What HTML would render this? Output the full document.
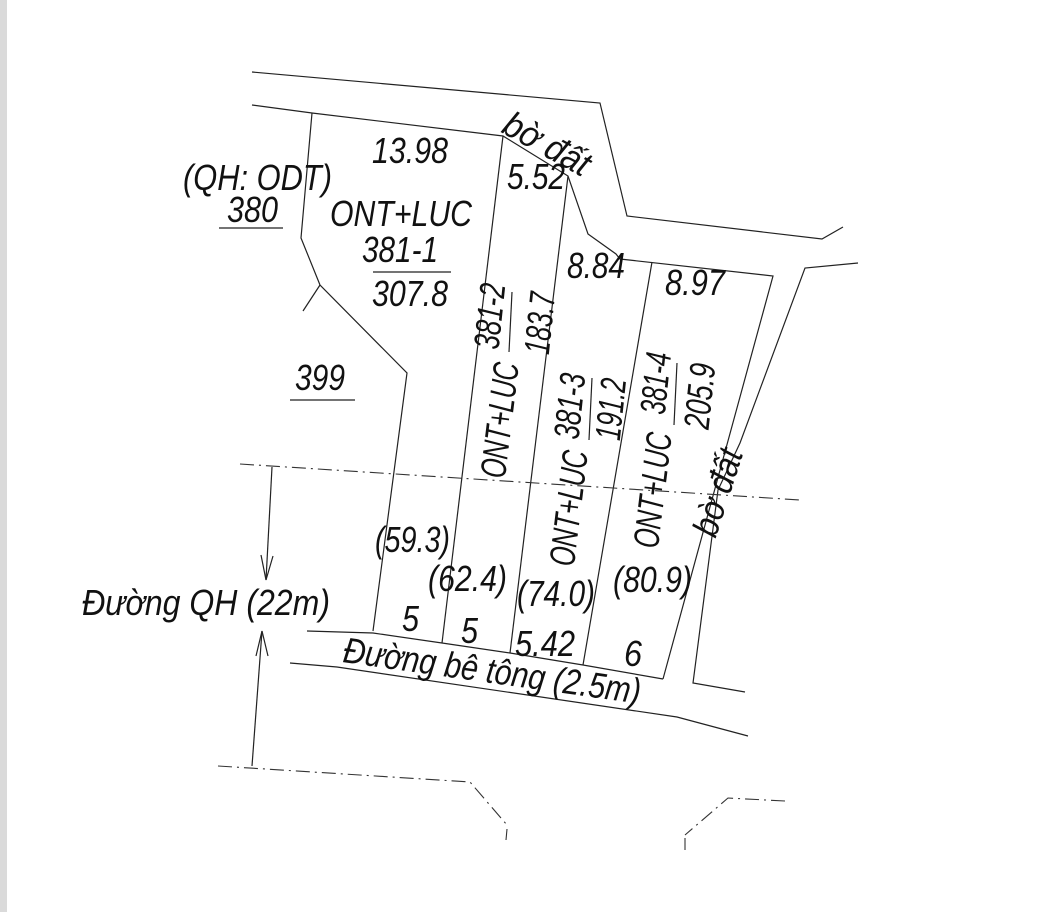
<!DOCTYPE html>
<html><head><meta charset="utf-8"><style>
html,body{margin:0;padding:0;background:#fff;}
svg{display:block;}
text{font-family:"Liberation Sans",sans-serif;font-style:italic;font-size:36px;fill:#111;}
</style></head><body>
<svg width="1051" height="912" viewBox="0 0 1051 912" xmlns="http://www.w3.org/2000/svg">
<rect x="0" y="0" width="1051" height="912" fill="#fff"/>
<rect x="0" y="0" width="7" height="912" fill="#dadada"/>
<g fill="none" stroke="#222" stroke-width="1.2">
<polyline points="252,72 600,103 627,216 822,239 843,227"/>
<polyline points="252,105 312,113 503,136 568,176 588,234 616,254 620,259 773,276 663,679"/>
<polyline points="858,263 805,268 740,443 718,490 693,683 745,692"/>
<polyline points="312,113 301,238 320,285 407,373 373,631"/>
<polyline points="320,285 303,311"/>
<line x1="503" y1="136" x2="442" y2="643"/>
<line x1="568" y1="176" x2="510" y2="653"/>
<line x1="652" y1="262" x2="583" y2="665"/>
<polyline points="307,631 373,633 442,643 510,653 583,665 663,679"/>
<polyline points="290,663 337,667 677,717 748,736"/>
<line x1="219" y1="228" x2="283" y2="228"/>
<line x1="373" y1="272" x2="451" y2="272"/>
<line x1="290" y1="400" x2="355" y2="400"/>
<line x1="512" y1="292" x2="509" y2="352"/>
<line x1="592" y1="378" x2="589" y2="440"/>
<line x1="677" y1="363" x2="674" y2="425"/>
<line x1="272" y1="467" x2="266" y2="580"/>
<polyline points="261,555 266,580 273,556"/>
<line x1="252" y1="766" x2="262" y2="631"/>
<polyline points="256,656 262,631 268,656"/>
</g>
<g fill="none" stroke="#333" stroke-width="1.1" stroke-dasharray="14,5,2,5">
<line x1="240" y1="464" x2="800" y2="500"/>
<polyline points="218,766 470,782 507,825"/>
<polyline points="785,801 728,798 685,835"/>
</g>
<g stroke="#333" stroke-width="1.1">
<line x1="507" y1="829" x2="506" y2="840"/>
<line x1="685" y1="838" x2="685" y2="850"/>
</g>
<text x="183" y="190" textLength="149" lengthAdjust="spacingAndGlyphs">(QH: ODT)</text>
<text x="227" y="222" textLength="51" lengthAdjust="spacingAndGlyphs">380</text>
<text x="372" y="163" textLength="76" lengthAdjust="spacingAndGlyphs">13.98</text>
<text x="330" y="226" textLength="142" lengthAdjust="spacingAndGlyphs">ONT+LUC</text>
<text x="362" y="262" textLength="76" lengthAdjust="spacingAndGlyphs">381-1</text>
<text x="372" y="306" textLength="76" lengthAdjust="spacingAndGlyphs">307.8</text>
<text x="507" y="189" textLength="58" lengthAdjust="spacingAndGlyphs">5.52</text>
<text x="567" y="278" textLength="58" lengthAdjust="spacingAndGlyphs">8.84</text>
<text x="665" y="295" textLength="60" lengthAdjust="spacingAndGlyphs">8.97</text>
<text x="295" y="390" textLength="50" lengthAdjust="spacingAndGlyphs">399</text>
<text transform="translate(547,144) rotate(29)" text-anchor="middle" y="12" textLength="94" lengthAdjust="spacingAndGlyphs">bờ đất</text>
<g text-anchor="middle">
<text transform="translate(499,420) rotate(-83)" y="13" textLength="116" lengthAdjust="spacingAndGlyphs">ONT+LUC</text>
<text transform="translate(489,316) rotate(-84)" y="13" textLength="66" lengthAdjust="spacingAndGlyphs">381-2</text>
<text transform="translate(539,323) rotate(-84)" y="13" textLength="62" lengthAdjust="spacingAndGlyphs">183.7</text>
<text transform="translate(568,508) rotate(-83)" y="13" textLength="116" lengthAdjust="spacingAndGlyphs">ONT+LUC</text>
<text transform="translate(569,406) rotate(-84)" y="13" textLength="66" lengthAdjust="spacingAndGlyphs">381-3</text>
<text transform="translate(610,409) rotate(-84)" y="13" textLength="62" lengthAdjust="spacingAndGlyphs">191.2</text>
<text transform="translate(652,490) rotate(-83)" y="13" textLength="116" lengthAdjust="spacingAndGlyphs">ONT+LUC</text>
<text transform="translate(655,383) rotate(-84)" y="13" textLength="62" lengthAdjust="spacingAndGlyphs">381-4</text>
<text transform="translate(699,396) rotate(-84)" y="13" textLength="66" lengthAdjust="spacingAndGlyphs">205.9</text>
<text transform="translate(717,492) rotate(-72)" y="13" textLength="90" lengthAdjust="spacingAndGlyphs">bờ đất</text>
</g>
<text x="375" y="552" textLength="75" lengthAdjust="spacingAndGlyphs">(59.3)</text>
<text x="428" y="591" textLength="79" lengthAdjust="spacingAndGlyphs">(62.4)</text>
<text x="517" y="606" textLength="78" lengthAdjust="spacingAndGlyphs">(74.0)</text>
<text x="613" y="592" textLength="79" lengthAdjust="spacingAndGlyphs">(80.9)</text>
<text x="402" y="631" textLength="17" lengthAdjust="spacingAndGlyphs">5</text>
<text x="461" y="643" textLength="17" lengthAdjust="spacingAndGlyphs">5</text>
<text x="515" y="656" textLength="60" lengthAdjust="spacingAndGlyphs">5.42</text>
<text x="624" y="666" textLength="18" lengthAdjust="spacingAndGlyphs">6</text>
<text x="82" y="615" textLength="248" lengthAdjust="spacingAndGlyphs">Đường QH (22m)</text>
<text transform="translate(342,662) rotate(8)" textLength="300" lengthAdjust="spacingAndGlyphs">Đường bê tông (2.5m)</text>
</svg>
</body></html>
